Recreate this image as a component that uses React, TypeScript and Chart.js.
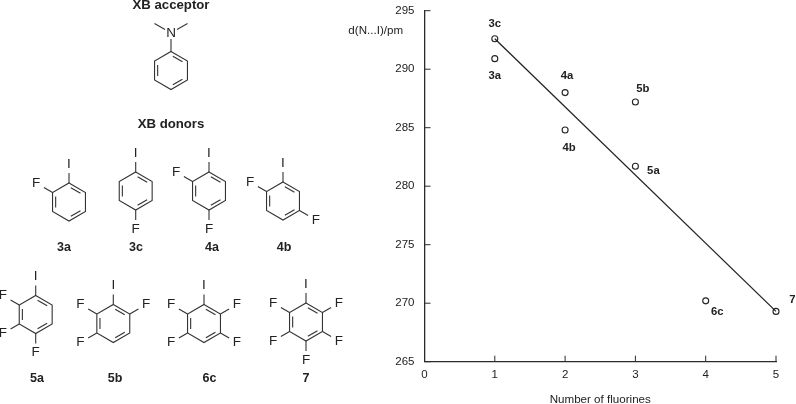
import React, { useEffect, useRef } from "react";
import { Chart, registerables } from "chart.js";

Chart.register(...registerables);

// Data
const pointNames = ["3c", "3a", "4a", "4b", "5b", "5a", "6c", "7"];
const fluorines = [1, 1, 2, 2, 3, 3, 4, 5];
const distances = [292.6, 290.9, 288.0, 284.8, 287.2, 281.7, 270.2, 269.3];
const fitX = [1, 5];
const fitY = [292.6, 269.3];

// Label offsets relative to each point, in pixels
const labelOffsets: [number, number][] = [
  [0, -15],
  [0, 17],
  [2, -17],
  [4, 17.5],
  [7.5, -13],
  [18, 4.5],
  [11.5, 11.5],
  [16.5, -11.5],
];

const INK = "#2b2b2b";
const FONT = "'Liberation Sans', Arial, sans-serif";

// Skeletal formulas on the left (decoration, not data)
type Sub = [number, string];
interface Mol { name: string; cx: number; cy: number; subs: Sub[]; lx: number; ly: number }
const molecules: Mol[] = [
  { name: "3a", cx: 69, cy: 202, subs: [[0, "I"], [5, "F"]], lx: 64, ly: 248 },
  { name: "3c", cx: 135.7, cy: 191, subs: [[0, "I"], [3, "F"]], lx: 136, ly: 248 },
  { name: "4a", cx: 209, cy: 191, subs: [[0, "I"], [5, "F"], [3, "F"]], lx: 212, ly: 248 },
  { name: "4b", cx: 283, cy: 201, subs: [[0, "I"], [5, "F"], [2, "F"]], lx: 284, ly: 248 },
  { name: "5a", cx: 35.7, cy: 314.5, subs: [[0, "I"], [5, "F"], [4, "F"], [3, "F"]], lx: 37, ly: 379 },
  { name: "5b", cx: 113.3, cy: 323.5, subs: [[0, "I"], [5, "F"], [4, "F"], [1, "F"]], lx: 115, ly: 379 },
  { name: "6c", cx: 204, cy: 323.5, subs: [[0, "I"], [5, "F"], [4, "F"], [1, "F"], [2, "F"]], lx: 209.5, ly: 379 },
  { name: "7", cx: 306, cy: 322, subs: [[0, "I"], [5, "F"], [4, "F"], [1, "F"], [2, "F"], [3, "F"]], lx: 306, ly: 379 },
];

const R = 19;
function vertex(cx: number, cy: number, i: number, r = R): [number, number] {
  const a = (-90 + i * 60) * (Math.PI / 180);
  return [cx + r * Math.cos(a), cy + r * Math.sin(a)];
}

function line(ctx: CanvasRenderingContext2D, a: [number, number], b: [number, number]) {
  ctx.beginPath();
  ctx.moveTo(a[0], a[1]);
  ctx.lineTo(b[0], b[1]);
  ctx.stroke();
}

function ring(ctx: CanvasRenderingContext2D, cx: number, cy: number) {
  ctx.beginPath();
  for (let i = 0; i < 6; i++) {
    const v = vertex(cx, cy, i);
    if (i === 0) ctx.moveTo(v[0], v[1]);
    else ctx.lineTo(v[0], v[1]);
  }
  ctx.closePath();
  ctx.stroke();
  for (const i of [0, 2, 4]) {
    const a = vertex(cx, cy, i, R - 3.6);
    const b = vertex(cx, cy, i + 1, R - 3.6);
    const s = 0.14;
    line(
      ctx,
      [a[0] + (b[0] - a[0]) * s, a[1] + (b[1] - a[1]) * s],
      [b[0] - (b[0] - a[0]) * s, b[1] - (b[1] - a[1]) * s]
    );
  }
}

function atom(ctx: CanvasRenderingContext2D, t: string, x: number, y: number) {
  ctx.font = `13.5px ${FONT}`;
  ctx.fillText(t, x, y);
}

function drawMolecule(ctx: CanvasRenderingContext2D, m: Mol) {
  ring(ctx, m.cx, m.cy);
  for (const [i, t] of m.subs) {
    const v = vertex(m.cx, m.cy, i);
    const inner = vertex(m.cx, m.cy, i, R + 10);
    line(ctx, v, inner);
    const p = vertex(m.cx, m.cy, i, R + 19);
    atom(ctx, t, p[0], p[1]);
  }
  ctx.font = `bold 12.5px ${FONT}`;
  ctx.fillText(m.name, m.lx, m.ly);
}

const decoration = {
  id: "decoration",
  afterDraw(chart: any) {
    const ctx: CanvasRenderingContext2D = chart.ctx;
    const xs = chart.scales.x;
    const ys = chart.scales.y;
    ctx.save();

    // Inward tick marks, taken from the scales' own ticks
    ctx.strokeStyle = INK;
    ctx.lineWidth = 1;
    xs.ticks.forEach((t: any) => {
      const px = xs.getPixelForValue(t.value);
      line(ctx, [px, ys.bottom], [px, ys.bottom - 6]);
    });
    ys.ticks.forEach((t: any) => {
      const py = ys.getPixelForValue(t.value);
      line(ctx, [xs.left, py], [xs.left + 6, py]);
    });

    ctx.strokeStyle = "#333";
    ctx.fillStyle = "#222";
    ctx.lineWidth = 1.1;
    ctx.textAlign = "center";
    ctx.textBaseline = "middle";

    ctx.font = `bold 13.2px ${FONT}`;
    ctx.fillText("XB acceptor", 171, 5);
    ctx.fillText("XB donors", 171, 124.5);

    // N,N-dimethylaniline
    ring(ctx, 171, 70.5);
    line(ctx, [171, 51.5], [171, 39]);
    line(ctx, [165, 29.5], [154.5, 23.5]);
    line(ctx, [177, 29.5], [187.5, 23.5]);
    atom(ctx, "N", 171, 33);

    molecules.forEach((m) => drawMolecule(ctx, m));

    // Axis caption and point labels
    ctx.font = `11.6px ${FONT}`;
    ctx.fillText("d(N...I)/pm", 375.7, 31);
    ctx.font = `bold 11.3px ${FONT}`;
    pointNames.forEach((n, i) => {
      const [dx, dy] = labelOffsets[i];
      ctx.fillText(
        n,
        xs.getPixelForValue(fluorines[i]) + dx,
        ys.getPixelForValue(distances[i]) + dy
      );
    });
    ctx.restore();
  },
};

export default function App() {
  const ref = useRef<HTMLCanvasElement>(null);
  useEffect(() => {
    const chart = new Chart(ref.current as HTMLCanvasElement, {
      type: "scatter",
      data: {
        datasets: [
          {
            label: "Fit",
            data: fitX.map((x, i) => ({ x, y: fitY[i] })),
            showLine: true,
            pointRadius: 0,
            borderColor: "#222",
            borderWidth: 1.3,
            clip: false,
          },
          {
            label: "d(N...I)",
            data: fluorines.map((x, i) => ({ x, y: distances[i] })),
            pointRadius: 3,
            pointBorderWidth: 1.1,
            pointBorderColor: "#222",
            pointBackgroundColor: "transparent",
            clip: false,
          },
        ],
      } as any,
      options: {
        responsive: false,
        animation: false,
        layout: { padding: { left: 384.5, right: 20, top: 10.7, bottom: 0 } },
        plugins: { legend: { display: false }, tooltip: { enabled: false } },
        scales: {
          x: {
            type: "linear",
            min: 0,
            max: 5,
            afterFit(s: any) {
              s.height = 42.3;
              s.paddingLeft = 0;
              s.paddingRight = 0;
            },
            border: { color: INK, width: 1.3 },
            grid: { drawOnChartArea: false, drawTicks: false, tickLength: 0 },
            ticks: {
              stepSize: 1,
              padding: 6.5,
              maxRotation: 0,
              color: "#222",
              font: { family: FONT, size: 11.5 },
            },
            title: {
              display: true,
              text: "Number of fluorines",
              color: "#222",
              font: { family: FONT, size: 11.6 },
              padding: { top: 0, bottom: -3 },
            },
          },
          y: {
            type: "linear",
            min: 265,
            max: 295,
            afterFit(s: any) {
              s.width = 40;
              s.paddingTop = 0;
              s.paddingBottom = 0;
            },
            border: { color: INK, width: 1.3 },
            grid: { drawOnChartArea: false, drawTicks: false, tickLength: 0 },
            ticks: {
              stepSize: 5,
              padding: 10,
              color: "#222",
              font: { family: FONT, size: 11.5 },
            },
          },
        },
      } as any,
      plugins: [decoration],
    });
    return () => chart.destroy();
  }, []);
  return (
    <canvas
      ref={ref}
      width={796}
      height={404}
      style={{ position: "absolute", left: 0, top: 0, display: "block" }}
    />
  );
}
